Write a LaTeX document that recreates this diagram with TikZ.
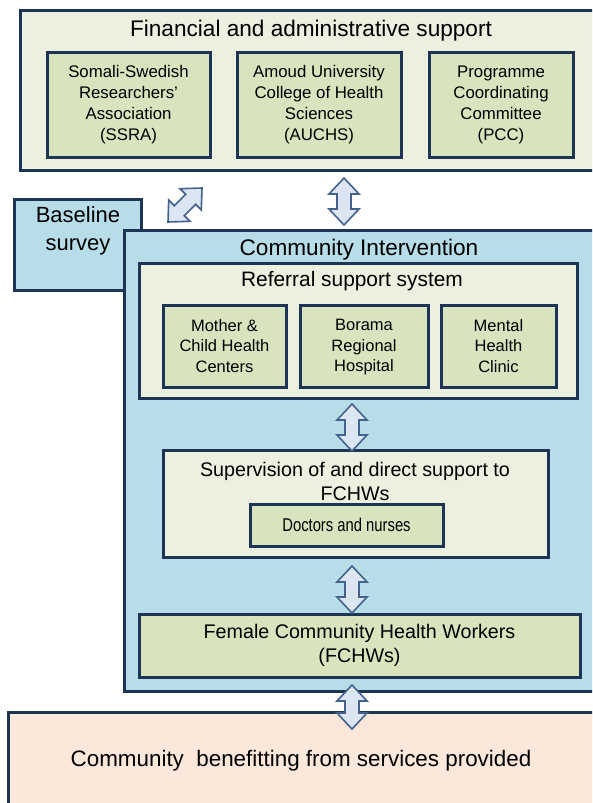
\documentclass[tikz,border=0pt]{standalone}
\usepackage{graphicx}
\usepackage{fontspec}
\setmainfont{Liberation Sans}
\usetikzlibrary{calc}

\definecolor{edge}{RGB}{30,52,84}
\definecolor{paleolive}{RGB}{235,241,222}
\definecolor{olive}{RGB}{215,228,189}
\definecolor{aqua}{RGB}{183,221,232}
\definecolor{peach}{RGB}{252,232,218}
\definecolor{arrowfill}{RGB}{220,230,242}
\definecolor{arrowedge}{RGB}{68,98,140}

\tikzset{
  box/.style={draw=edge, line width=3pt, inner sep=0pt, align=center, text=black},
  panel/.style={box, fill=paleolive},
  unit/.style={box, fill=olive},
  bluepanel/.style={box, fill=aqua},
  peachpanel/.style={box, fill=peach},
  heading/.style={inner sep=0pt, align=center, text=black},
  blockarrow/.style={draw=arrowedge, fill=arrowfill, line width=1.6pt, line join=miter},
}

% double-headed block arrow between two named points
\newcommand\blockconn[2]{%
  \draw[blockarrow]
    (#1)
    -- ($($(#1)!16pt!(#2)$)!15pt!90:(#2)$)
    -- ($($(#1)!16pt!(#2)$)!7pt!90:(#2)$)
    -- ($($(#2)!16pt!(#1)$)!7pt!-90:(#1)$)
    -- ($($(#2)!16pt!(#1)$)!15pt!-90:(#1)$)
    -- (#2)
    -- ($($(#2)!16pt!(#1)$)!15pt!90:(#1)$)
    -- ($($(#2)!16pt!(#1)$)!7pt!90:(#1)$)
    -- ($($(#1)!16pt!(#2)$)!7pt!-90:(#2)$)
    -- ($($(#1)!16pt!(#2)$)!15pt!-90:(#2)$)
    -- cycle;}

\begin{document}
\begin{tikzpicture}[x=1pt, y=-1pt]
  \clip (0,0) rectangle (592,803);
  \fill[white] (0,0) rectangle (592,803);

  % financial and administrative support
  \node[panel, minimum width=580pt, minimum height=160pt] (fin) at (310,90) {};
  \node[heading, font=\fontsize{22.6}{26}\selectfont] (fintitle) at (311,31) {Financial and administrative support};
  \begin{scope}[every node/.append style={font=\fontsize{16.8}{21}\selectfont}]
    \node[unit, minimum width=163pt, minimum height=105pt] (ssra) at (128.5,104.5)
      {Somali-Swedish\\Researchers'\\Association\\(SSRA)};
    \node[unit, minimum width=164pt, minimum height=105pt] (auchs) at (319,104.5)
      {Amoud University\\College of Health\\Sciences\\(AUCHS)};
    \node[unit, minimum width=144pt, minimum height=105pt] (pcc) at (501,104.5)
      {Programme\\Coordinating\\Committee\\(PCC)};
  \end{scope}

  % baseline survey (partly behind the intervention panel)
  \node[bluepanel, minimum width=127pt, minimum height=91pt] (base) at (77.5,244.5) {};
  \node[heading, font=\fontsize{22}{28}\selectfont] (basetext) at (78,230.5) {Baseline\\survey};

  % community intervention
  \node[bluepanel, minimum width=476pt, minimum height=461pt] (comm) at (362,460.5) {};
  \node[heading, font=\fontsize{22.6}{26}\selectfont] (commtitle) at (359,250) {Community\ Intervention};

  % referral support system
  \node[panel, minimum width=438pt, minimum height=135pt] (ref) at (358,330.5) {};
  \node[heading, font=\fontsize{20.9}{24}\selectfont] (reftitle) at (352,281) {Referral support system};
  \begin{scope}[every node/.append style={font=\fontsize{16.5}{20.5}\selectfont}]
    \node[unit, minimum width=123pt, minimum height=82pt] (mch) at (224.5,346)
      {Mother \&\\Child Health\\Centers};
    \node[unit, minimum width=128pt, minimum height=82pt] (brh) at (364,346)
      {\strut Borama\\Regional\\Hospital};
    \node[unit, minimum width=115pt, minimum height=82pt] (mhc) at (498.5,346)
      {Mental\\Health\\Clinic};
  \end{scope}

  % supervision
  \node[panel, minimum width=385pt, minimum height=107pt] (sup) at (355.5,503.5) {};
  \node[heading, font=\fontsize{19.7}{24}\selectfont] (suptitle) at (355,481)
    {Supervision of and direct support to\\FCHWs};
  \node[unit, minimum width=193pt, minimum height=42pt, font=\fontsize{18.5}{20}\selectfont] (doc) at (346.5,525)
    {\scalebox{0.8}[1]{Doctors and nurses}};

  % female community health workers
  \node[unit, minimum width=441pt, minimum height=63pt, font=\fontsize{19.7}{24}\selectfont] (fchw) at (359.5,645.5)
    {Female Community Health Workers\\(FCHWs)};

  % community benefitting
  \node[peachpanel, minimum width=592pt, minimum height=103pt] (cben) at (304,763.5) {};
  \node[heading, font=\fontsize{22.4}{26}\selectfont] (cbentext) at (301,761)
    {Community\ \ benefitting from services provided};

  % connectors
  \coordinate (a1s) at (168,222);
  \coordinate (a1e) at (202,188);
  \coordinate (a2s) at (344,178);
  \coordinate (a2e) at (344,225);
  \coordinate (a3s) at (352,404);
  \coordinate (a3e) at (352,451);
  \coordinate (a4s) at (352,566);
  \coordinate (a4e) at (352,613);
  \coordinate (a5s) at (352,685);
  \coordinate (a5e) at (352,729);
  \blockconn{a1s}{a1e}
  \blockconn{a2s}{a2e}
  \blockconn{a3s}{a3e}
  \blockconn{a4s}{a4e}
  \blockconn{a5s}{a5e}
\end{tikzpicture}
\end{document}
